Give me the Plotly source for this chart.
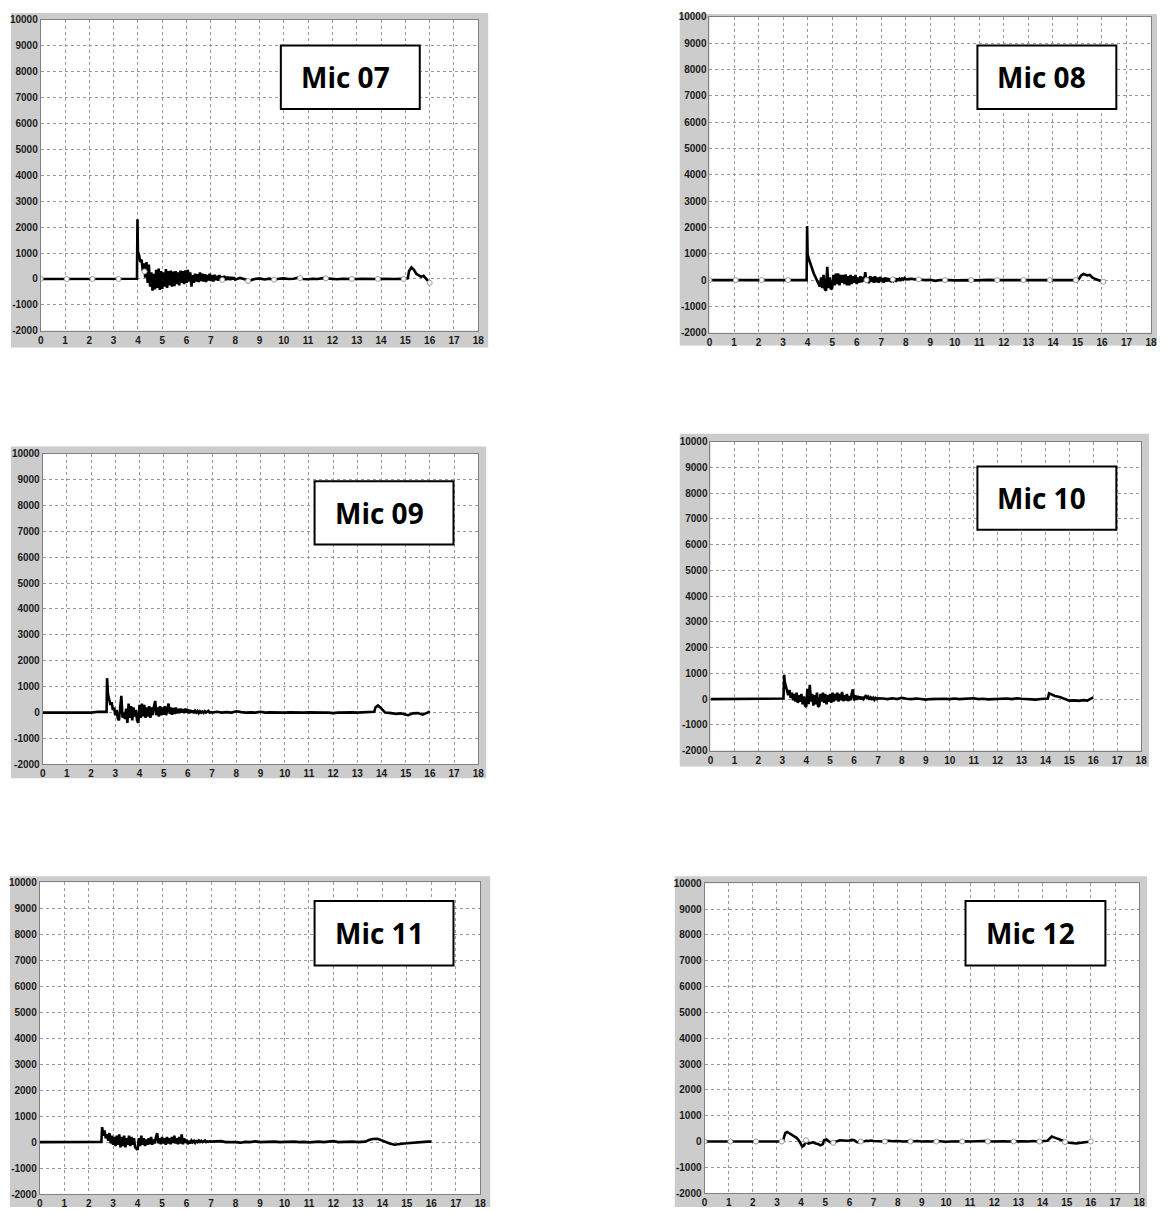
import plotly.graph_objects as go

W, H = 1165, 1213


def grid(a, b, step):
    n = int(round((b - a) / step)) + 1
    return [round(a + i * step, 3) for i in range(n)]


# ---------------- Mic 07 ----------------
mic07_t = ([0, 1, 2, 3, 3.5, 3.96, 3.98, 4.0] + grid(4.05, 8.0, 0.05) + grid(8.2, 15.0, 0.2)
           + [15.1, 15.15, 15.25, 15.35, 15.45, 15.55, 15.65, 15.75, 15.82, 15.9, 16.0])
mic07_v = ([0, 0, 0, 0, 10, 10, 2300, 1050]
           + [900, 650, 750, 300, 600, 50, 650, -150, 550, -300,
              250, -450, 200, -400, 350, -350, 400, -420, 300, -380,
              250, -300, 380, -350, 300, -250, 320, -300, 280, -280,
              300, -200, 250, -250, 320, -150, 300, -200, 330, -150,
              350, -100, 250, -300, 150, -150, 200, -100, 180, -120,
              250, -80, 200, -100, 180, -120, 150, -60, 200, -80,
              150, -100, 160, -50, 120, -70, 150, -60, 100, -40,
              120, -50, 90, -30, 80, -40, 70, -20, 60, -30]
           + [40, -30, -70, 0, 20, -20, 10, -30, 10, 20,
              0, 10, 50, 0, -10, 10, 0, 30, 20, 0,
              -10, 10, 0, -10, 0, 10, 0, 10, 0, 10,
              0, 10, 0, 10, 0]
           + [30, 300, 450, 350, 200, 150, 80, 120, 50, -50, -150])
mic07_mx = [0, 1.07, 2.13, 3.2, 4.27, 7.47, 8.53, 9.6, 10.67, 11.73, 12.8, 13.87, 14.93, 16.0]
mic07_my = [0, 0, 0, 0, 290, -40, -80, -30, 30, 20, 0, 0, 0, -150]

# ---------------- Mic 08 ----------------
mic08_t = ([0, 1, 2, 3, 3.96, 3.98, 4.0] + grid(4.05, 8.0, 0.05) + grid(8.2, 15.0, 0.2)
           + [15.05, 15.15, 15.25, 15.4, 15.5, 15.6, 15.75, 15.9, 16.05])
mic08_v = ([0, 0, 0, 0, 0, 2050, 980]
           + [800, 650, 550, 400, 250, 150, 50, -100, -200, -250,
              100, -300, 200, -350, -400, 500, -300, 100, -350, -300,
              200, -200, 250, -150, 250, -200, 200, -100, 200, -150,
              220, -200, 150, -200, 200, -150, 150, -100, 200, -150,
              100, -100, 150, -80, 120, -50, 300, -100, 100, -120,
              150, -60, 120, -100, 150, -80, 100, -100, 120, -50,
              80, -100, 100, -60, 80, -40, 60, -80, 50, -30,
              40, -20, 60, -30, 50, 0, 60, 20, 80, 30]
           + [50, 30, 20, 0, 10, -30, 0, 10, 0, -10,
              0, 10, 0, -10, 0, 0, 10, 0, 0, 0,
              0, 10, 0, -10, 0, 0, 10, 0, 0, 0,
              10, 0, 0, 0, 0]
           + [30, 180, 230, 180, 200, 100, 30, -20, -60])
mic08_mx = [0, 1.07, 2.13, 3.2, 6.4, 7.47, 8.53, 9.6, 10.67, 11.73, 12.8, 13.87, 14.93, 16.05]
mic08_my = [0, 0, 0, 0, 0, 30, 30, 0, 0, 0, 0, 0, 0, -60]

# ---------------- Mic 09 ----------------
mic09_t = ([0, 1, 2.0, 2.3, 2.64, 2.66] + grid(2.70, 7.0, 0.05) + grid(7.2, 13.6, 0.2)
           + [13.7, 13.75, 13.85, 13.95, 14.05, 14.15, 14.4, 14.6, 14.8, 15.0, 15.1, 15.3,
              15.5, 15.7, 15.8, 15.9, 16.0])
mic09_v = ([0, 0, 0, 30, 30, 1330]
           + [700, 500, 300, 400, 100, 200, -100, 100, -200, -300,
              100, 650, -200, 0, -250, 150, -400, 350, -200, 250,
              -300, 200, -150, 100, -300, -400, 300, -200, 350, -150,
              300, -200, 200, -150, 250, -200, 200, -100, 250, 450,
              -100, 200, -150, 250, -100, 200, -80, 250, -100, 200,
              350, -50, 200, -80, 180, -50, 200, -30, 150, -20,
              150, 0, 130, -20, 150, 0, 120, -30, 100, 0,
              80, -20, 70, 0, 60, -20, 50, 0, 40, -10,
              50, 0, 30, 70, 0, 20, 0]
           + [30, 0, 20, 0, 50, 20, 0, 10, 0, 30,
              0, 10, 0, 10, 0, 10, 0, 10, 0, 10,
              0, 10, 0, 0, -20, 0, 10, 0, 10, 0,
              10, 0, 20]
           + [30, 200, 280, 200, 80, 0, -20, -50, -30, -80, -100, -30, -20, -80, -50, 0, 50])
mic09_mx = []
mic09_my = []

# ---------------- Mic 10 ----------------
mic10_t = ([0, 1, 2, 2.1, 3.05, 3.08, 3.10] + grid(3.15, 7.0, 0.05) + grid(7.2, 14.0, 0.2)
           + [14.1, 14.15, 14.25, 14.4, 14.6, 14.8, 15.0, 15.2, 15.4, 15.6, 15.75, 15.9, 16.0])
mic10_v = ([0, 0, 0, 20, 20, 940, 700]
           + [500, 300, 150, 350, 50, 250, -50, 200, -100, 250,
              -150, 150, -100, 200, -200, 100, -250, -300, 400, -200,
              550, -100, 200, -250, 150, -200, 250, -300, -250, 200,
              -100, 250, -150, 200, -200, 150, -100, 200, -150, 250,
              -100, 200, -50, 250, -100, 200, -50, 280, -80, 150,
              -50, 200, -80, 120, -50, 200, 380, -50, 150, -30,
              120, 0, 100, -20, 80, 0, 100, 150, 20, 80,
              -20, 60, 0, 50, -30, 40, 0, 30]
           + [20, 0, 30, 0, 50, 10, 0, 20, 0, -20,
              0, 10, 0, 10, 0, 20, 0, 10, 0, 30,
              0, 10, -10, 0, 10, 0, 20, 0, 30, 10,
              0, 10, -20, 0, 0]
           + [20, 220, 180, 120, 80, 20, -60, -50, -70, -40, -60, 20, 60])
mic10_mx = []
mic10_my = []

# ---------------- Mic 11 ----------------
mic11_t = ([0, 1, 2, 2.2, 2.52, 2.55] + grid(2.60, 7.0, 0.05) + grid(7.2, 13.2, 0.2)
           + [13.3, 13.45, 13.6, 13.8, 13.95, 14.1, 14.3, 14.5, 14.6, 14.8, 15.0, 15.2,
              15.5, 15.7, 15.85, 16.0])
mic11_v = ([0, 0, 0, 10, 10, 580]
           + [250, 450, 150, 300, 50, 350, -50, 250, -100, 200,
              -150, 250, -100, 300, -200, 200, -150, 250, -200, 150,
              -100, 250, -150, 200, -100, 150, -200, -250, -300, 150,
              -150, 250, -100, 150, -150, 100, -100, 150, -80, 200,
              -100, 100, -50, 200, 350, -50, 150, -80, 200, -50,
              150, -100, 200, -50, 150, -80, 200, -30, 250, -50,
              150, -80, 200, -50, 300, -80, 150, -30, 100, -80,
              50, -50, 60, 0, 50, -30, 40, 0, 60, 10,
              50, 0, 30, 60, 0, 30, 10, 40, 20]
           + [20, 40, 0, 10, 0, -20, 10, 0, 30, 0,
              10, 0, 20, 0, 10, 0, 20, 0, 10, -10,
              0, 20, 0, 10, 40, 0, 10, 0, 20, 0,
              10]
           + [20, 80, 120, 130, 80, 0, -50, -100, -80, -60, -40, -20, 0, 30, 20, 20])
mic11_mx = []
mic11_my = []

# ---------------- Mic 12 ----------------
mic12_t = ([0, 1, 2, 3, 3.25, 3.3, 3.35, 3.42, 3.5, 3.6, 3.7, 3.8, 3.9, 3.95, 4.05, 4.12,
            4.2, 4.3, 4.4, 4.5, 4.6, 4.7, 4.8, 4.9, 4.95, 5.05, 5.15, 5.25, 5.4, 5.5, 5.6,
            5.7, 5.8, 5.9, 6.0, 6.1, 6.2, 6.3, 6.4, 6.5, 6.6, 6.7, 6.8, 6.9, 7.0]
           + grid(7.2, 14.2, 0.2)
           + [14.3, 14.38, 14.5, 14.6, 14.75, 14.9, 15.05, 15.2, 15.4, 15.6, 15.8, 16.0])
mic12_v = ([0, 0, 0, 0, 0, 200, 330, 370, 320, 250, 200, 150, 50, -50, -200, -150,
            0, -80, -50, -30, -80, -100, -150, -100, 50, 80, 0, -50, 0, 10, 50,
            40, 20, 30, 40, 60, 50, -20, -40, -10, 0, 30, 20, 40, 20]
           + [20, 0, 30, 10, 20, 0, 10, 0, 20, 0,
              10, 0, 20, 0, -10, 0, 10, 0, 10, 0,
              10, 0, 20, 0, 10, 0, 10, 0, 10, 0,
              10, 0, 20, 0, 10, 30]
           + [120, 190, 150, 110, 60, 0, -40, -60, -80, -50, -30, 0])
mic12_mx = [0, 1.07, 2.13, 3.2, 4.2, 5.33, 6.47, 7.47, 8.53, 9.6, 10.67, 11.73, 12.8, 13.87, 14.93, 16.0]
mic12_my = [0, 0, 0, 0, 50, -50, 0, 0, 0, 0, 0, 0, 0, 0, -20, 0]

x_ticks = list(range(0, 19))
y_ticks = list(range(-2000, 10001, 1000))

# layout in pixels: gray frame, plot area, label box, label centre
panels = [
    dict(name="Mic 07", t=mic07_t, v=mic07_v, mx=mic07_mx, my=mic07_my,
         gray=(8, 7, 489, 345), plot=(38, 14, 479, 328), box=(280, 40, 420, 104), txt=(345, 72)),
    dict(name="Mic 08", t=mic08_t, v=mic08_v, mx=mic08_mx, my=mic08_my,
         gray=(682, 8, 1163, 343), plot=(712, 11, 1157, 330), box=(982, 40, 1122, 104), txt=(1047, 72)),
    dict(name="Mic 09", t=mic09_t, v=mic09_v, mx=mic09_mx, my=mic09_my,
         gray=(8, 445, 487, 780), plot=(40, 452, 479, 766), box=(314, 480, 454, 544), txt=(379, 512)),
    dict(name="Mic 10", t=mic10_t, v=mic10_v, mx=mic10_mx, my=mic10_my,
         gray=(682, 432, 1155, 768), plot=(713, 440, 1147, 752), box=(982, 465, 1122, 529), txt=(1047, 497)),
    dict(name="Mic 11", t=mic11_t, v=mic11_v, mx=mic11_mx, my=mic11_my,
         gray=(7, 879, 491, 1213), plot=(37, 885, 481, 1200), box=(314, 904, 454, 969), txt=(379, 936)),
    dict(name="Mic 12", t=mic12_t, v=mic12_v, mx=mic12_mx, my=mic12_my,
         gray=(677, 879, 1153, 1213), plot=(707, 886, 1145, 1199), box=(970, 904, 1111, 969), txt=(1035, 936)),
]


def px(x):
    return x / W


def py(y):
    return 1 - y / H


fig = go.Figure()
shapes = []
annotations = []
layout_axes = {}
tickfont = dict(family="Liberation Sans, Arial, sans-serif", size=10, color="#1a1a1a", weight="bold")

for i, p in enumerate(panels, start=1):
    n = min(len(p["t"]), len(p["v"]))
    xa = "x" if i == 1 else f"x{i}"
    ya = "y" if i == 1 else f"y{i}"
    fig.add_trace(go.Scatter(x=p["t"][:n], y=p["v"][:n], mode="lines",
                             line=dict(color="black", width=2.6), xaxis=xa, yaxis=ya,
                             showlegend=False, hoverinfo="skip"))
    if p["mx"]:
        fig.add_trace(go.Scatter(x=p["mx"], y=p["my"], mode="markers",
                                 marker=dict(symbol="circle", size=5, color="white",
                                             line=dict(color="#9a9a9a", width=1)),
                                 xaxis=xa, yaxis=ya, showlegend=False, hoverinfo="skip"))
    gx0, gy0, gx1, gy1 = p["gray"]
    x0, y0, x1, y1 = p["plot"]
    shapes.append(dict(type="rect", xref="paper", yref="paper", layer="below",
                       x0=px(gx0), x1=px(gx1), y0=py(gy1), y1=py(gy0),
                       fillcolor="#cccccc", line=dict(width=0)))
    shapes.append(dict(type="rect", xref="paper", yref="paper", layer="below",
                       x0=px(x0), x1=px(x1), y0=py(y1), y1=py(y0),
                       fillcolor="white", line=dict(width=0)))
    bx0, by0, bx1, by1 = p["box"]
    shapes.append(dict(type="rect", xref="paper", yref="paper", layer="above",
                       x0=px(bx0), x1=px(bx1), y0=py(by1), y1=py(by0),
                       fillcolor="white", line=dict(color="black", width=2)))
    tx, ty = p["txt"]
    annotations.append(dict(text="<b>" + p["name"] + "</b>", xref="paper", yref="paper",
                            x=px(tx), y=py(ty), xanchor="center", yanchor="middle",
                            showarrow=False,
                            font=dict(family="Open Sans, sans-serif", size=28, color="black")))
    kx = "xaxis" if i == 1 else f"xaxis{i}"
    ky = "yaxis" if i == 1 else f"yaxis{i}"
    layout_axes[kx] = dict(domain=[px(x0), px(x1)], anchor=ya, range=[0, 18],
                           tickmode="array", tickvals=x_ticks, ticktext=[str(v) for v in x_ticks],
                           showgrid=True, gridcolor="#999999", griddash="dot", gridwidth=1,
                           zeroline=False, showline=True, linecolor="#808080", linewidth=1,
                           mirror=True, ticks="", tickfont=tickfont, fixedrange=True)
    layout_axes[ky] = dict(domain=[py(y1), py(y0)], anchor=xa, range=[-2000, 10000],
                           tickmode="array", tickvals=y_ticks, ticktext=[str(v) for v in y_ticks],
                           showgrid=True, gridcolor="#999999", griddash="dot", gridwidth=1,
                           zeroline=False, showline=True, linecolor="#808080", linewidth=1,
                           mirror=True, ticks="", tickfont=tickfont, fixedrange=True)

fig.update_layout(width=W, height=H, margin=dict(l=0, r=0, t=0, b=0),
                  paper_bgcolor="white", plot_bgcolor="white",
                  shapes=shapes, annotations=annotations, showlegend=False, **layout_axes)

fig.write_html("out.html", config={"displayModeBar": False},
               post_script="document.body.style.margin='0';document.body.style.overflow='hidden';")
